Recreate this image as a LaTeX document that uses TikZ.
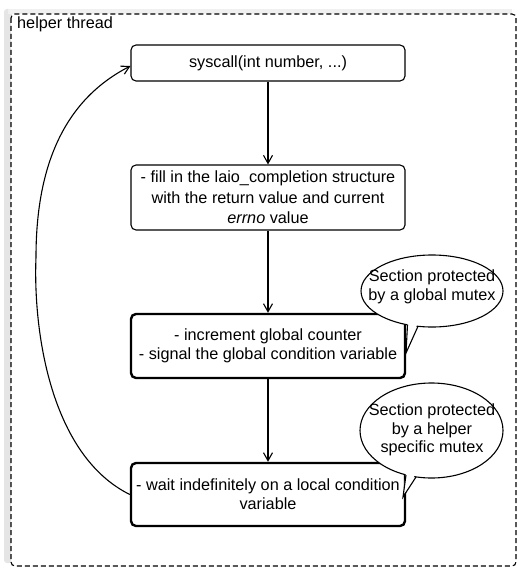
\documentclass[tikz,border=0pt]{standalone}
\usepackage{fontspec}
\setmainfont{Liberation Sans}
\usetikzlibrary{arrows.meta,shapes.geometric}
\begin{document}
\begin{tikzpicture}[x=1bp,y=-1bp,
  every node/.style={font=\fontsize{16.3}{19}\selectfont},
  box/.style={draw, rounded corners=5bp, minimum width=274bp, align=center, line width=1.1bp, fill=white, inner sep=2bp},
  thickbox/.style={box, line width=2.4bp},
  flow/.style={line width=1.1bp, -{Straight Barb[length=8bp,width=9bp]}},
  balloon/.style={draw, ellipse, fill=white, line width=1.1bp, inner sep=0pt},
  btext/.style={align=center, inner sep=0pt, font=\fontsize{16.3}{18.5}\selectfont}]
\useasboundingbox (0,0) rectangle (518,568);
% frame shadow (left and top) and frame
\fill[black!10, rounded corners=3bp] (4,9) rectangle (12,563);
\fill[black!6] (8,9) rectangle (512,14);
\draw[fill=white, dash pattern=on 5bp off 3bp, line width=1.1bp, rounded corners=4bp] (11,14) rectangle (516,566);
\node[anchor=base west, inner sep=0pt] (lbl) at (17,28.5) {helper thread};
% boxes
\node[box, minimum height=36bp] (sys) at (268,63) {syscall(int number, ...)};
\node[box, minimum height=65bp, font=\fontsize{16.3}{20.5}\selectfont] (fill) at (268,197.5) {- fill in the laio\_completion structure\\ with the return value and current\\ \textit{errno} value};
\node[thickbox, minimum height=64bp] (inc) at (268,346) {- increment global counter\\ - signal the global condition variable};
\node[thickbox, minimum height=63bp] (wait) at (268,494.5) {- wait indefinitely on a local condition\\ variable};
% connectors
\draw[flow] (sys) -- (fill);
\draw[flow] (fill) -- (inc);
\draw[flow] (inc) -- (wait);
\coordinate (midloop) at (36,257);
\draw[flow] (wait.west) .. controls (50,455) and (33,330) .. (midloop)
  .. controls (36,160) and (68,98) .. ([yshift=-3bp]sys.west);
% balloon 1
\node[balloon, minimum width=142bp, minimum height=72bp] (b1) at (432,291) {};
\fill[white] (407.5,321) -- (406,353) -- (418,322) -- cycle;
\draw[line width=1.1bp, line join=miter] (407.5,324.7) -- (406,353) -- (418,326.3);
\node[btext] (b1t) at (432,287) {Section protected\\ by a global mutex};
% balloon 2
\node[balloon, minimum width=143bp, minimum height=95bp] (b2) at (431.5,430.5) {};
\fill[white] (406,471) -- (403,497) -- (416,473) -- cycle;
\draw[line width=1.1bp, line join=miter] (406,475) -- (403,497) -- (416,477);
\node[btext] (b2t) at (432,430) {Section protected\\ by a helper\\ specific mutex};
\end{tikzpicture}
\end{document}
